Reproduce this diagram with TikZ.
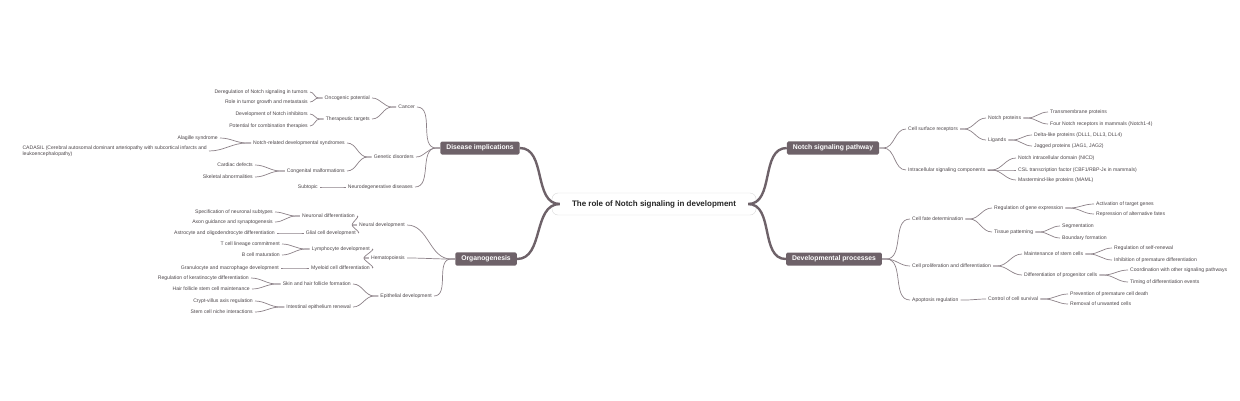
\documentclass[tikz,border=0pt]{standalone}
\usepackage{fontspec}
\setmainfont{Liberation Sans}
\usepackage{tikz}
\usetikzlibrary{positioning}

\definecolor{mapdark}{HTML}{6E6269}
\definecolor{maplink}{HTML}{8C8188}
\definecolor{maptext}{HTML}{4A4448}

\begin{document}
\begin{tikzpicture}[
            x=1pt, y=-1pt,
            leaf/.style={inner sep=2pt, text=maptext, font=\fontsize{5.1}{6}\selectfont},
            lft/.style={leaf, anchor=east},
            rgt/.style={leaf, anchor=west},
            main node/.style={fill=mapdark, text=white, rounded corners=1.5pt, inner xsep=6pt,
                minimum height=13pt, font=\fontsize{6.8}{8}\bfseries},
            root node/.style={draw=black!15, fill=white, rounded corners=6pt, minimum width=204pt,
                minimum height=22pt, font=\fontsize{8}{9}\bfseries, text=black!85},
            link/.style={draw=maplink, line width=0.7pt},
            trunk/.style={draw=mapdark, line width=2.4pt},
            ]
            \useasboundingbox (0,0) rectangle (1240,400);

            % centre and main branches
            \node[root node] (root) at (654,204) {The role of Notch signaling in development};
            \node[main node] (dis) at (480,148) {Disease implications};
            \node[main node] (org) at (486,259) {Organogenesis};
            \node[main node] (nsp) at (833,148) {Notch signaling pathway};
            \node[main node] (dev) at (834,259) {Developmental processes};

            % disease implications
            \node[lft] (cancer) at (417,107) {Cancer};
            \node[lft] (gen) at (416,157) {Genetic disorders};
            \node[lft] (neuro) at (415,187) {Neurodegenerative diseases};
            \node[lft] (onc) at (372,98) {Oncogenic potential};
            \node[lft] (ther) at (372,119) {Therapeutic targets};
            \node[lft] (dereg) at (310,92) {Deregulation of Notch signaling in tumors};
            \node[lft] (role) at (310,102) {Role in tumor growth and metastasis};
            \node[lft] (inhib) at (310,114) {Development of Notch inhibitors};
            \node[lft] (comb) at (310,126) {Potential for combination therapies};
            \node[lft] (synd) at (347,143) {Notch-related developmental syndromes};
            \node[lft] (cong) at (347,171) {Congenital malformations};
            \node[lft] (alag) at (220,138) {Alagille syndrome};
            \node[lft, align=left] (cada) at (209,151) {CADASIL (Cerebral autosomal dominant arteriopathy with subcortical infarcts and\\leukoencephalopathy)};
            \node[lft] (card) at (255,165) {Cardiac defects};
            \node[lft] (skel) at (255,177) {Skeletal abnormalities};
            \node[lft] (sub) at (320,187) {Subtopic};

            % organogenesis
            \node[lft] (neural) at (407,225) {Neural development};
            \node[lft] (hema) at (407,258) {Hematopoiesis};
            \node[lft] (epi) at (434,296) {Epithelial development};
            \node[lft] (neurd) at (357,216) {Neuronal differentiation};
            \node[lft] (glial) at (358,233) {Glial cell development};
            \node[lft] (spec) at (275,212) {Specification of neuronal subtypes};
            \node[lft] (axon) at (275,222) {Axon guidance and synaptogenesis};
            \node[lft] (astro) at (277,233) {Astrocyte and oligodendrocyte differentiation};
            \node[lft] (lymph) at (372,249) {Lymphocyte development};
            \node[lft] (myel) at (372,268) {Myeloid cell differentiation};
            \node[lft] (tcell) at (282,244) {T cell lineage commitment};
            \node[lft] (bcell) at (282,255) {B cell maturation};
            \node[lft] (gran) at (281,268) {Granulocyte and macrophage development};
            \node[lft] (skin) at (353,284) {Skin and hair follicle formation};
            \node[lft] (intest) at (353,307) {Intestinal epithelium renewal};
            \node[lft] (kera) at (251,278) {Regulation of keratinocyte differentiation};
            \node[lft] (hair) at (252,289) {Hair follicle stem cell maintenance};
            \node[lft] (crypt) at (255,301) {Crypt-villus axis regulation};
            \node[lft] (niche) at (255,312) {Stem cell niche interactions};

            % notch signaling pathway
            \node[rgt] (surf) at (906,129) {Cell surface receptors};
            \node[rgt] (intra) at (906,170) {Intracellular signaling components};
            \node[rgt] (nprot) at (986,118) {Notch proteins};
            \node[rgt] (lig) at (986,140) {Ligands};
            \node[rgt] (trans) at (1048,112) {Transmembrane proteins};
            \node[rgt] (four) at (1048,124) {Four Notch receptors in mammals (Notch1-4)};
            \node[rgt] (delta) at (1032,135) {Delta-like proteins (DLL1, DLL3, DLL4)};
            \node[rgt] (jag) at (1032,146) {Jagged proteins (JAG1, JAG2)};
            \node[rgt] (nicd) at (1016,158) {Notch intracellular domain (NICD)};
            \node[rgt] (csl) at (1016,170) {CSL transcription factor (CBF1/RBP-Jκ in mammals)};
            \node[rgt] (maml) at (1016,180) {Mastermind-like proteins (MAML)};

            % developmental processes
            \node[rgt] (fate) at (910,219) {Cell fate determination};
            \node[rgt] (prol) at (910,266) {Cell proliferation and differentiation};
            \node[rgt] (apop) at (910,300) {Apoptosis regulation};
            \node[rgt] (gexp) at (992,208) {Regulation of gene expression};
            \node[rgt] (tiss) at (992,232) {Tissue patterning};
            \node[rgt] (act) at (1094,204) {Activation of target genes};
            \node[rgt] (rep) at (1094,214) {Repression of alternative fates};
            \node[rgt] (seg) at (1060,226) {Segmentation};
            \node[rgt] (bound) at (1060,238) {Boundary formation};
            \node[rgt] (maint) at (1022,254) {Maintenance of stem cells};
            \node[rgt] (diff) at (1022,275) {Differentiation of progenitor cells};
            \node[rgt] (self) at (1112,248) {Regulation of self-renewal};
            \node[rgt] (prem) at (1112,260) {Inhibition of premature differentiation};
            \node[rgt] (coord) at (1128,270) {Coordination with other signaling pathways};
            \node[rgt] (tim) at (1128,282) {Timing of differentiation events};
            \node[rgt] (surv) at (986,299) {Control of cell survival};
            \node[rgt] (prev) at (1068,294) {Prevention of premature cell death};
            \node[rgt] (remv) at (1068,304) {Removal of unwanted cells};

            % trunks
            \draw[trunk] (root.west) ++(8,0) to[out=180,in=0] (dis.east);
            \draw[trunk] (root.west) ++(8,0) to[out=180,in=0] (org.east);
            \draw[trunk] (root.east) ++(-8,0) to[out=0,in=180] (nsp.west);
            \draw[trunk] (root.east) ++(-8,0) to[out=0,in=180] (dev.west);

            % links to the left
            \foreach \p/\c in {dis/cancer, dis/gen, dis/neuro, cancer/onc, cancer/ther,
                onc/dereg, onc/role, ther/inhib, ther/comb, gen/synd, gen/cong,
                synd/alag, synd/cada, cong/card, cong/skel, neuro/sub,
                org/neural, org/hema, org/epi, neural/neurd, neural/glial,
                neurd/spec, neurd/axon, glial/astro, hema/lymph, hema/myel,
                lymph/tcell, lymph/bcell, myel/gran, epi/skin, epi/intest,
                skin/kera, skin/hair, intest/crypt, intest/niche}
                \draw[link] (\p.west) -- ++(-4,0) to[out=180,in=0] (\c.east);

            % links to the right
            \foreach \p/\c in {nsp/surf, nsp/intra, surf/nprot, surf/lig, nprot/trans, nprot/four,
                lig/delta, lig/jag, intra/nicd, intra/csl, intra/maml,
                dev/fate, dev/prol, dev/apop, fate/gexp, fate/tiss, gexp/act, gexp/rep,
                tiss/seg, tiss/bound, prol/maint, prol/diff, maint/self, maint/prem,
                diff/coord, diff/tim, apop/surv, surv/prev, surv/remv}
                \draw[link] (\p.east) -- ++(4,0) to[out=0,in=180] (\c.west);
        \end{tikzpicture}
\end{document}
